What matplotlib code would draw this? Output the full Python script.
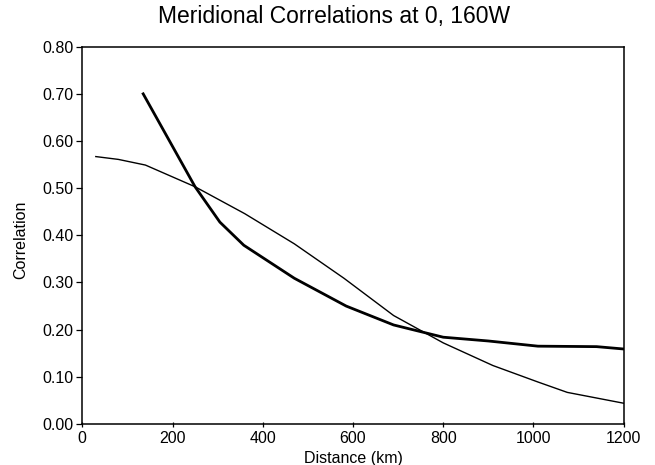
import numpy as np
import matplotlib
matplotlib.use('Agg')
from matplotlib import pyplot as plt

plt.rcParams['font.family'] = ['Liberation Sans', 'DejaVu Sans']

# thin curve (smooth fit)
dist_thin = [30, 80, 140, 250, 360, 470, 580, 690, 800, 910, 1010, 1075, 1200]
corr_thin = [0.567, 0.561, 0.549, 0.503, 0.446, 0.382, 0.309, 0.230, 0.172, 0.124, 0.089, 0.067, 0.044]

# thick curve (observed)
dist_thick = [135, 250, 305, 358, 470, 585, 690, 800, 900, 1010, 1140, 1200]
corr_thick = [0.700, 0.503, 0.428, 0.379, 0.309, 0.250, 0.210, 0.184, 0.176, 0.165, 0.164, 0.159]

xticks = [0, 200, 400, 600, 800, 1000, 1200]
yticks = np.arange(0, 0.81, 0.1)

fig = plt.figure(figsize=(6.55, 4.65), dpi=100)
ax = fig.add_axes([0.1256, 0.0882, 0.8266, 0.8114])

ax.plot(dist_thin, corr_thin, color='black', lw=1.0)
ax.plot(dist_thick, corr_thick, color='black', lw=2.0)

ax.set_xlim(0, 1200)
ax.set_ylim(0, 0.8)
ax.set_xticks(xticks)
ax.set_yticks(yticks)
ax.set_yticklabels(['%.2f' % v for v in yticks])
ax.tick_params(axis='y', direction='out', length=4.3, width=0.9, labelsize=11.5, pad=2.2, right=False)
ax.tick_params(axis='x', direction='inout', length=3.6, width=0.9, labelsize=11.5, pad=3.5, top=False)
for s in ax.spines.values():
    s.set_linewidth(1.1)
    s.set_color('black')

ax.set_xlabel('Distance (km)', fontsize=11.5, labelpad=3)
ax.set_ylabel('Correlation', fontsize=11.5)
ax.yaxis.set_label_coords(-0.100, 0.488)

fig.text(0.51, 0.95, 'Meridional Correlations at 0, 160W', fontsize=16.5,
         ha='center', va='baseline')

plt.savefig('out.png', dpi=100)
